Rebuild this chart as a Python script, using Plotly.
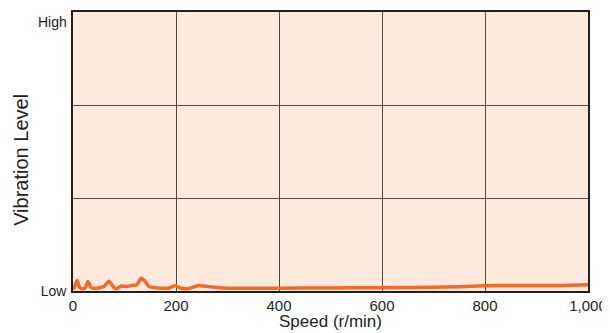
import plotly.graph_objects as go

speed = [0, 3, 8, 13, 18, 24, 29, 35, 45, 60, 70, 78, 85, 94, 105, 114, 124, 132, 140, 148,
         165, 185, 198, 210, 225, 243, 265, 300, 350, 400, 500, 600, 700, 750, 800, 850, 900, 950, 1000]
level = [0.5, 1.5, 3.8, 1.2, 0.8, 1.2, 3.4, 1.3, 1.0, 1.6, 3.5, 1.5, 0.8, 1.8, 1.6, 2.0, 2.2, 4.6, 3.5, 1.5,
         1.1, 1.0, 1.9, 1.0, 0.9, 2.0, 1.5, 1.0, 1.0, 1.0, 1.1, 1.2, 1.3, 1.5, 1.9, 2.0, 2.0, 2.0, 2.2]

x_ticks = [0, 200, 400, 600, 800, 1000]
x_tick_text = ["0", "200", "400", "600", "800", "1,000"]
y_ticks = [0, 33.333, 66.667, 100]
y_tick_text = ["Low", "", "", ""]
y_top_label = "High"

fig = go.Figure()
fig.add_trace(go.Scatter(x=speed, y=level, mode="lines",
                         line=dict(color="#f26a2b", width=3.5, shape="spline", smoothing=0.4),
                         hoverinfo="skip", showlegend=False))

# page body has an 8px default margin, so the figure is sized to fill the rest of the window
font = "Liberation Sans, Arial, sans-serif"
fig.update_layout(
    width=602, height=325,
    margin=dict(l=65, r=22, t=4, b=42, autoexpand=False),
    paper_bgcolor="white",
    plot_bgcolor="#fdeadd",
    font=dict(family=font, color="#231f20", size=15),
    xaxis=dict(range=[0, 1000], tickvals=x_ticks, ticktext=x_tick_text,
               showgrid=True, gridcolor="#4a4a4a", gridwidth=1,
               showline=True, linecolor="#231f20", linewidth=1.5, mirror=True,
               zeroline=False, ticks="", tickfont=dict(size=15), automargin=False),
    yaxis=dict(range=[0, 100], tickvals=y_ticks, ticktext=y_tick_text,
               showgrid=True, gridcolor="#4a4a4a", gridwidth=1,
               showline=True, linecolor="#231f20", linewidth=1.5, mirror=True,
               zeroline=False, ticks="", tickfont=dict(size=14), ticklabelstandoff=2,
               automargin=False),
    annotations=[
        dict(text=y_top_label, xref="paper", yref="paper", x=-0.008, y=1.0,
             xanchor="right", yanchor="top", showarrow=False, font=dict(size=14)),
        dict(text="Speed (r/min)", xref="paper", yref="paper", x=0.5, y=-0.108,
             xanchor="center", yanchor="middle", showarrow=False, font=dict(size=17)),
        dict(text="Vibration Level", xref="paper", yref="paper", x=-0.101, y=0.47,
             xanchor="center", yanchor="middle", textangle=-90, showarrow=False,
             font=dict(size=20)),
    ],
)

fig.write_html("out.html")
